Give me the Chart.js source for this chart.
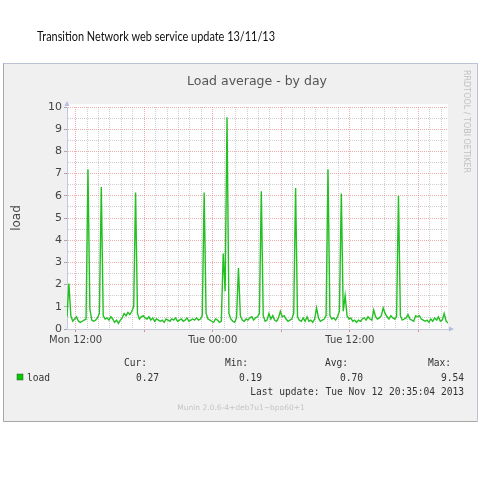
<!DOCTYPE html>
<html>
<head>
<meta charset="utf-8">
<script src="https://cdn.jsdelivr.net/npm/chart.js@4.4.1/dist/chart.umd.min.js"></script>
<style>
  html, body { margin: 0; padding: 0; background: #fff; }
  canvas { display: block; }
</style>
</head>
<body>
<canvas id="load" width="480" height="480"></canvas>
<script>
'use strict';

// munin samples every 10 minutes, Mon 11:15 -> Tue 20:35
var startHour = 11.25;
var stepHours = 1 / 6;
var loads = [
  0.55, 2.05, 0.6, 0.35, 0.45, 0.55, 0.35, 0.3, 0.35, 0.4,
  0.45, 7.2, 0.9, 0.4, 0.35, 0.4, 0.5, 0.7, 6.4, 0.6,
  0.45, 0.5, 0.4, 0.55, 0.45, 0.3, 0.4, 0.25, 0.4, 0.5,
  0.7, 0.6, 0.75, 0.65, 0.8, 1.0, 6.15, 0.7, 0.45, 0.55,
  0.6, 0.5, 0.45, 0.55, 0.4, 0.5, 0.35, 0.45, 0.4, 0.35,
  0.4, 0.3, 0.45, 0.4, 0.35, 0.45, 0.4, 0.5, 0.35, 0.4,
  0.45, 0.35, 0.4, 0.5, 0.35, 0.4, 0.45, 0.4, 0.5, 0.4,
  0.45, 0.6, 6.15, 0.7, 0.45, 0.4, 0.35, 0.3, 0.45, 0.4,
  0.3, 0.35, 3.4, 1.7, 9.54, 0.7, 0.45, 0.35, 0.3, 0.5,
  2.75, 0.6, 0.4, 0.35, 0.45, 0.4, 0.5, 0.55, 0.4, 0.5,
  0.55, 0.7, 6.2, 0.6, 0.35, 0.4, 0.7, 0.45, 0.6, 0.4,
  0.35, 0.5, 0.8, 0.55, 0.6, 0.45, 0.35, 0.4, 0.45, 0.7,
  6.35, 0.55, 0.4, 0.35, 0.5, 0.35, 0.55, 0.35, 0.4, 0.3,
  0.45, 0.95, 0.5, 0.35, 0.4, 0.45, 0.6, 7.2, 0.6, 0.45,
  0.5, 0.4, 0.55, 0.8, 6.1, 0.8, 1.5, 0.6, 0.45, 0.5,
  0.35, 0.4, 0.3, 0.4, 0.35, 0.45, 0.5, 0.4, 0.55, 0.45,
  0.4, 0.85, 0.55, 0.45, 0.5, 0.6, 0.95, 0.7, 0.55, 0.45,
  0.6, 0.5, 0.45, 0.55, 6.0, 0.6, 0.4, 0.45, 0.5, 0.65,
  0.45, 0.4, 0.35, 0.6, 0.55, 0.6, 0.45, 0.4, 0.35, 0.4,
  0.3, 0.45, 0.35, 0.5, 0.4, 0.55, 0.35, 0.4, 0.7, 0.35,
  0.27
];

var tickHours = [12, 24, 36];
var tickLabels = ['Mon 12:00', 'Tue 00:00', 'Tue 12:00'];

var statNames = ['Cur:', 'Min:', 'Avg:', 'Max:'];
var statValues = ['0.27', '0.19', '0.70', '9.54'];

var pageTitle = 'Transition Network web service update 13/11/13';
var graphTitle = 'Load average - by day';
var lastUpdate = 'Last update: Tue Nov 12 20:35:04 2013';
var muninVersion = 'Munin 2.0.6-4+deb7u1~bpo60+1';
var rrdCredit = 'RRDTOOL / TOBI OETIKER';

var points = loads.map(function (v, i) {
  return { x: startHour + i * stepHours, y: v };
});

var mono = '"DejaVu Sans Mono", monospace';
var sans = '"DejaVu Sans", sans-serif';
var majorGrid = 'rgba(230,120,120,0.6)';
var minorGrid = 'rgba(160,160,160,0.5)';

var muninFrame = {
  id: 'muninFrame',
  beforeDraw: function (chart) {
    var ctx = chart.ctx;
    var area = chart.chartArea;
    ctx.save();
    ctx.fillStyle = '#fff';
    ctx.fillRect(0, 0, 480, 480);

    // slide title, fitted to the width it has in the slide
    ctx.font = '14px Lato, sans-serif';
    ctx.fillStyle = '#111';
    ctx.textBaseline = 'alphabetic';
    var w = ctx.measureText(pageTitle).width;
    ctx.save();
    ctx.translate(37, 41);
    ctx.scale(238 / w, 1);
    ctx.fillText(pageTitle, 0, 0);
    ctx.restore();

    // munin image box
    ctx.fillStyle = '#f0f0f0';
    ctx.fillRect(3, 63, 475, 359);
    ctx.lineWidth = 1;
    ctx.strokeStyle = '#a8a8a8';
    ctx.beginPath();
    ctx.moveTo(3.5, 63.5); ctx.lineTo(3.5, 421.5); ctx.lineTo(477.5, 421.5);
    ctx.stroke();
    ctx.strokeStyle = '#8a94b8';
    ctx.setLineDash([1, 1]);
    ctx.beginPath();
    ctx.moveTo(3.5, 63.5); ctx.lineTo(477.5, 63.5); ctx.lineTo(477.5, 421.5);
    ctx.stroke();
    ctx.setLineDash([]);

    ctx.fillStyle = '#555';
    ctx.font = '12.5px ' + sans;
    ctx.textAlign = 'center';
    ctx.textBaseline = 'middle';
    ctx.fillText(graphTitle, 257, 82);

    ctx.save();
    ctx.translate(466, 70);
    ctx.rotate(Math.PI / 2);
    ctx.fillStyle = '#c0c0c0';
    ctx.font = '8px ' + sans;
    ctx.textAlign = 'left';
    ctx.fillText(rrdCredit, 0, 0);
    ctx.restore();

    ctx.fillStyle = '#fff';
    ctx.fillRect(area.left, area.top - 3, area.right - area.left, area.bottom - area.top + 3);
    ctx.restore();
  },
  afterDraw: function (chart) {
    var ctx = chart.ctx;
    var area = chart.chartArea;
    ctx.save();

    // rrdtool axis arrows
    ctx.fillStyle = '#b8bce0';
    ctx.beginPath();
    ctx.moveTo(area.left - 2.5, area.top - 1);
    ctx.lineTo(area.left + 2.5, area.top - 1);
    ctx.lineTo(area.left, area.top - 6);
    ctx.fill();
    ctx.beginPath();
    ctx.moveTo(area.right + 1, area.bottom - 2.5);
    ctx.lineTo(area.right + 1, area.bottom + 2.5);
    ctx.lineTo(area.right + 6, area.bottom);
    ctx.fill();

    // legend
    ctx.fillStyle = '#333';
    ctx.font = '9.6px ' + mono;
    ctx.textBaseline = 'middle';
    ctx.textAlign = 'right';
    var nameRight = [147, 248, 348, 451];
    var valRight = [159, 262, 363, 464];
    statNames.forEach(function (s, i) { ctx.fillText(s, nameRight[i], 363); });
    statValues.forEach(function (s, i) { ctx.fillText(s, valRight[i], 378); });
    ctx.fillText(lastUpdate, 464, 392);

    ctx.fillStyle = '#00cc00';
    ctx.fillRect(17, 374, 6, 6);
    ctx.strokeStyle = '#444';
    ctx.lineWidth = 0.5;
    ctx.strokeRect(17, 374, 6, 6);
    ctx.fillStyle = '#333';
    ctx.textAlign = 'left';
    ctx.fillText('load', 27, 378);

    ctx.fillStyle = '#c4c4c4';
    ctx.font = '7.5px ' + sans;
    ctx.textAlign = 'center';
    ctx.fillText(muninVersion, 241, 408);
    ctx.restore();
  }
};

new Chart(document.getElementById('load'), {
  type: 'line',
  data: {
    datasets: [{
      label: 'load',
      data: points,
      borderColor: '#22c022',
      borderWidth: 1.4,
      pointRadius: 0,
      tension: 0,
      fill: false
    }]
  },
  options: {
    responsive: false,
    animation: false,
    layout: { padding: { left: 0, right: 32, top: 107, bottom: 0 } },
    plugins: {
      legend: { display: false },
      title: { display: false },
      tooltip: { enabled: false }
    },
    scales: {
      x: {
        type: 'linear',
        min: startHour,
        max: startHour + (loads.length - 1) * stepHours,
        afterBuildTicks: function (scale) {
          var ticks = [];
          for (var h = Math.ceil(scale.min); h <= scale.max; h++) ticks.push({ value: h });
          scale.ticks = ticks;
        },
        afterFit: function (scale) { scale.height = 151; },
        ticks: {
          autoSkip: false,
          maxRotation: 0,
          padding: 2,
          color: '#444',
          font: { family: 'DejaVu Sans', size: 10 },
          callback: function (v) {
            var k = tickHours.indexOf(v);
            return k >= 0 ? tickLabels[k] : '';
          }
        },
        grid: {
          color: function (c) {
            return c.tick && c.tick.value % 6 === 0 ? majorGrid : minorGrid;
          },
          tickColor: function (c) {
            return c.tick && c.tick.value % 6 === 0 ? 'rgba(225,110,110,0.8)' : 'rgba(0,0,0,0)';
          },
          tickLength: 3,
          lineWidth: 1
        },
        border: { display: true, color: '#c6c8de', width: 1, dash: [1, 1] }
      },
      y: {
        min: 0,
        max: 10,
        afterFit: function (scale) { scale.width = 67; },
        ticks: {
          stepSize: 0.5,
          autoSkip: false,
          padding: 2,
          color: '#444',
          font: { family: 'DejaVu Sans', size: 11 },
          callback: function (v) { return Number.isInteger(v) ? String(v) : ''; }
        },
        grid: {
          color: function (c) {
            return c.tick && Number.isInteger(c.tick.value) ? majorGrid : minorGrid;
          },
          tickColor: function (c) {
            return c.tick && Number.isInteger(c.tick.value) ? '#aaa' : 'rgba(0,0,0,0)';
          },
          tickLength: 3
        },
        border: { display: true, color: '#c6c8de', width: 1, dash: [1, 1] },
        title: {
          display: true,
          text: 'load',
          color: '#444',
          font: { family: 'DejaVu Sans', size: 12 },
          padding: { top: 10, bottom: 0 }
        }
      }
    }
  },
  plugins: [muninFrame]
});
</script>
</body>
</html>
